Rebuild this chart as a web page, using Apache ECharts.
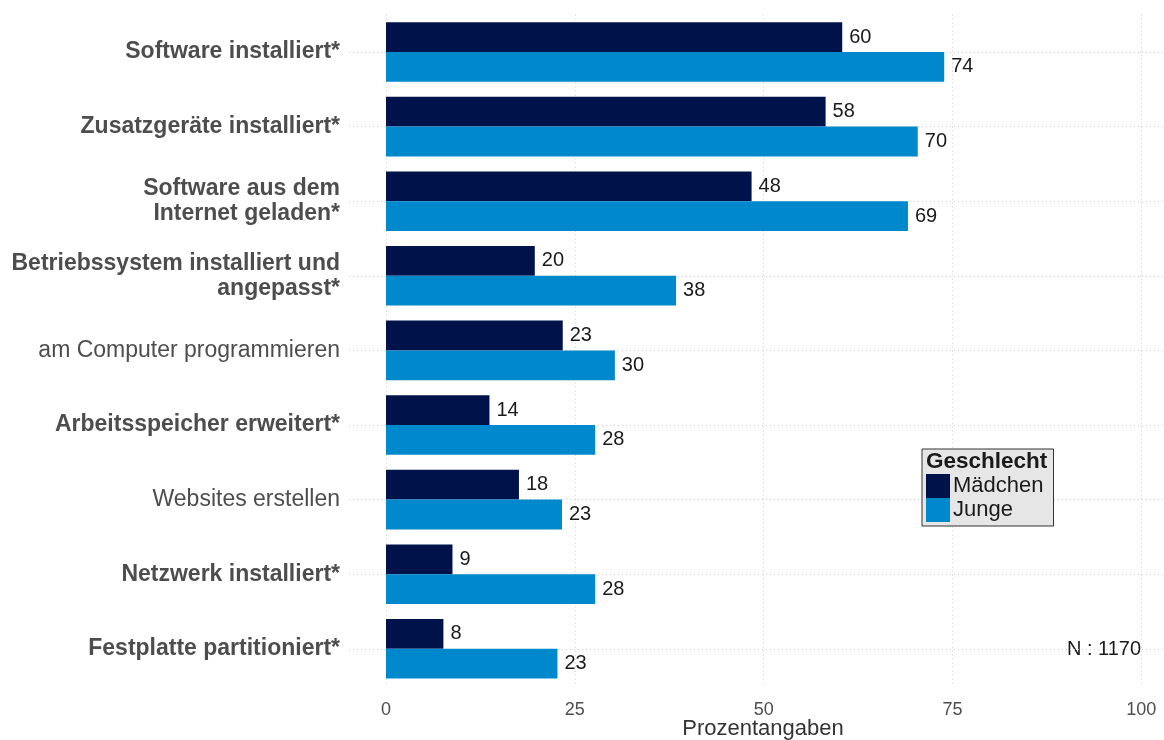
<!DOCTYPE html>
<html><head><meta charset="utf-8">
<script src="https://cdn.jsdelivr.net/npm/echarts@6/dist/echarts.min.js"></script>
<style>html,body{margin:0;padding:0;background:#fff}#c{width:1164px;height:740px}</style>
</head><body><div id="c"></div>
<script>
const categories = [
  'Software installiert*',
  'Zusatzgeräte installiert*',
  'Software aus dem\nInternet geladen*',
  'Betriebssystem installiert und\nangepasst*',
  'am Computer programmieren',
  'Arbeitsspeicher erweitert*',
  'Websites erstellen',
  'Netzwerk installiert*',
  'Festplatte partitioniert*'
];
const significant = [true, true, true, true, false, true, false, true, true];
const seriesNames = ['Mädchen', 'Junge'];
const maedchen = [60.4, 58.2, 48.4, 19.7, 23.4, 13.7, 17.6, 8.8, 7.6];
const junge = [73.9, 70.4, 69.1, 38.4, 30.3, 27.7, 23.3, 27.7, 22.7];
const axisTitle = 'Prozentangaben';
const legendTitle = 'Geschlecht';
const sampleNote = 'N : 1170';

const FONT = "'Liberation Sans', Arial, Helvetica, sans-serif";
const NAVY = '#00124A';
const BLUE = '#0088CC';
const GRID = '#cdcdcd';

const chart = echarts.init(document.getElementById('c'), null, {renderer: 'canvas'});

function barLabel() {
  return {
    show: true, position: 'right', distance: 7,
    color: '#1a1a1a', fontSize: 20, fontFamily: FONT,
    formatter: p => String(Math.round(p.value))
  };
}

chart.setOption({
  animation: false,
  textStyle: {fontFamily: FONT},
  grid: {left: 386, right: 0, top: 14.7, bottom: 53.9, containLabel: false, outerBoundsMode: 'none'},
  title: {
    text: legendTitle, left: 926, top: 450, padding: 0,
    textStyle: {fontFamily: FONT, fontWeight: 'bold', fontSize: 22.5, color: '#1a1a1a'}
  },
  legend: {
    data: seriesNames, orient: 'vertical', left: 922, top: 449,
    icon: 'rect', itemWidth: 24, itemHeight: 24, itemGap: 0,
    padding: [25, 10, 4, 4],
    backgroundColor: '#E6E6E6', borderColor: '#333', borderWidth: 1, borderRadius: 0,
    selectedMode: false,
    textStyle: {fontFamily: FONT, fontSize: 22, color: '#1a1a1a', padding: [0, 0, 0, -2]}
  },
  graphic: [{
    type: 'text', right: 23, top: 639,
    style: {text: sampleNote, font: '20px ' + FONT, fill: '#1a1a1a'}
  }],
  xAxis: {
    type: 'value', min: 0, max: 103, interval: 25,
    axisLine: {show: false}, axisTick: {show: false},
    axisLabel: {fontSize: 18, color: '#4d4d4d', margin: 15, showMaxLabel: false, fontFamily: FONT},
    splitLine: {show: true, lineStyle: {color: GRID, type: [1, 3], width: 1}},
    name: axisTitle, nameLocation: 'middle', nameGap: 32, nameMoveOverlap: false,
    nameTextStyle: {fontSize: 22, color: '#333', fontFamily: FONT, padding: [0, 24, 0, 0]}
  },
  yAxis: {
    type: 'category', inverse: true, data: categories,
    axisLine: {show: false},
    axisTick: {show: true, length: 39, alignWithLabel: true, lineStyle: {color: GRID, type: [1, 3], width: 1}},
    splitLine: {show: true, alignWithLabel: true, lineStyle: {color: GRID, type: [1, 3], width: 1}},
    axisLabel: {
      margin: 46,
      formatter: (v, i) => {
        const key = significant[i] ? 'b' : 'n';
        return v.split('\n').map(s => '{' + key + '|' + s + '}').join('\n');
      },
      rich: {
        b: {fontFamily: FONT, fontWeight: 'bold', fontSize: 23, color: '#4d4d4d', lineHeight: 25, align: 'right'},
        n: {fontFamily: FONT, fontWeight: 'normal', fontSize: 23, color: '#4d4d4d', lineHeight: 25, align: 'right'}
      }
    }
  },
  series: [
    {name: seriesNames[0], type: 'bar', data: maedchen, barWidth: 29.8, barGap: '0%',
     itemStyle: {color: NAVY}, label: barLabel()},
    {name: seriesNames[1], type: 'bar', data: junge, barWidth: 29.8, barGap: '0%',
     itemStyle: {color: BLUE}, label: barLabel()}
  ]
});
</script>
</body></html>
